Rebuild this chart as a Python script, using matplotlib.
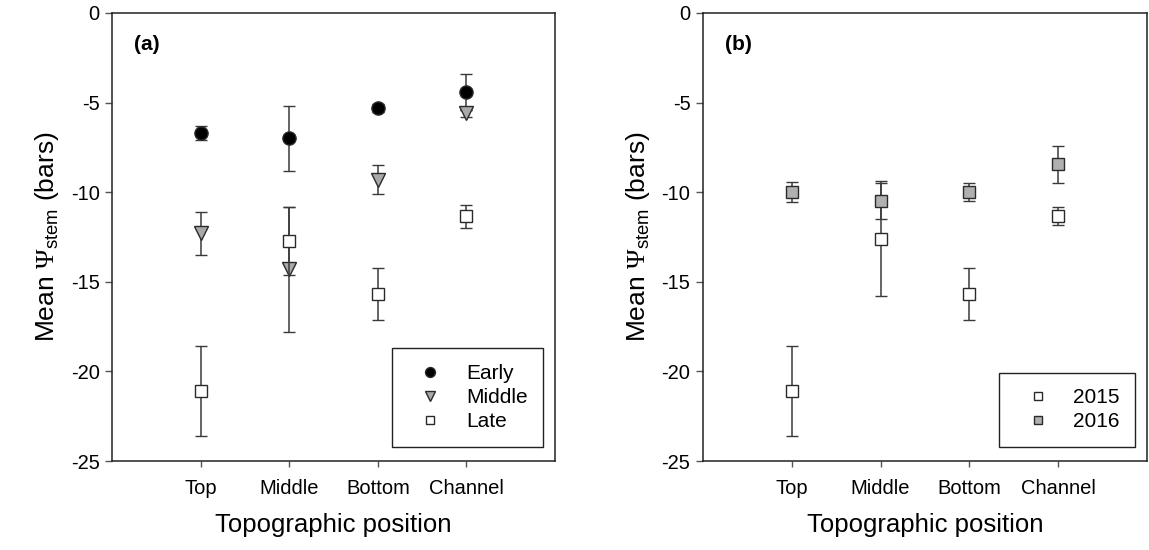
import numpy as np
import matplotlib.pyplot as plt

plt.rcParams['font.family'] = ['Liberation Sans', 'DejaVu Sans']
plt.rcParams['mathtext.fontset'] = 'custom'
plt.rcParams['mathtext.rm'] = 'Liberation Sans'
plt.rcParams['mathtext.sf'] = 'Liberation Serif'
plt.rcParams['axes.unicode_minus'] = False

positions = ['Top', 'Middle', 'Bottom', 'Channel']

# panel (a): seasons
early = [-6.7, -7.0, -5.3, -4.4]
early_err = [0.4, 1.8, 0.2, 1.0]
middle = [-12.3, -14.3, -9.3, -5.6]
middle_err = [1.2, 3.5, 0.8, 0.2]
late = [-21.1, -12.7, -15.7, -11.35]
late_err = [2.5, 1.9, 1.45, 0.65]

# panel (b): years
y2015 = [-21.1, -12.6, -15.7, -11.35]
y2015_err = [2.5, 3.2, 1.45, 0.5]
y2016 = [-10.0, -10.5, -10.0, -8.45]
y2016_err = [0.55, 1.0, 0.5, 1.05]

ecol = '#3a3a3a'
x = np.arange(1, len(positions) + 1)

fig = plt.figure(figsize=(11.49, 5.5), dpi=100)
ax1 = fig.add_axes([0.0975, 0.1618, 0.3856, 0.8146])
ax2 = fig.add_axes([0.6118, 0.1618, 0.3865, 0.8146])


def punto(ax, vals, errs, marker, fc, ms, label, z):
    cont = ax.errorbar(x, vals, yerr=errs, fmt=marker, ms=ms, mfc=fc, mec='#2a2a2a',
                       mew=1.0, ecolor=ecol, elinewidth=1.1, capsize=4, capthick=1.1,
                       zorder=z)
    cont[0].set_label(label)
    return cont[0]


h1 = [punto(ax1, early, early_err, 'o', 'black', 9.5, 'Early', 3),
      punto(ax1, middle, middle_err, 'v', '#a9a9a9', 9.5, 'Middle', 4),
      punto(ax1, late, late_err, 's', 'white', 8.6, 'Late', 5)]

h2 = [punto(ax2, y2015, y2015_err, 's', 'white', 8.6, '2015', 4),
      punto(ax2, y2016, y2016_err, 's', '#b0b0b0', 8.6, '2016', 5)]

for ax, tag, hs in [(ax1, '(a)', h1), (ax2, '(b)', h2)]:
    ax.set_xlim(0, 5)
    ax.set_ylim(-25, 0)
    ax.set_xticks(x)
    ax.set_xticklabels(positions, fontsize=14.5)
    ax.set_yticks([0, -5, -10, -15, -20, -25])
    ax.tick_params(axis='y', direction='out', length=5, width=1, color='#555555',
                   labelsize=14.5, pad=4)
    ax.tick_params(axis='x', direction='out', length=4, width=1, color='#555555',
                   pad=9)
    for s in ax.spines.values():
        s.set_linewidth(1.1)
        s.set_color('#222222')
    ax.set_xlabel('Topographic position', fontsize=18.5, labelpad=11)
    ax.set_ylabel(r'Mean $\mathsf{\Psi}_{\mathrm{stem}}$ (bars)', fontsize=19, labelpad=7)
    ax.text(0.05, 0.93, tag, transform=ax.transAxes, fontsize=15,
            fontweight='bold', va='center', ha='left')
    leg = ax.legend(handles=hs, loc='lower right', bbox_to_anchor=(0.973, 0.031),
                    borderaxespad=0, fontsize=15, frameon=True, fancybox=False,
                    framealpha=1, edgecolor='#222222', borderpad=0.75,
                    handlelength=2.2, handletextpad=0.6, labelspacing=0.25,
                    markerscale=0.75)
    leg.get_frame().set_linewidth(1.0)

fig.savefig('out.png', dpi=100)
